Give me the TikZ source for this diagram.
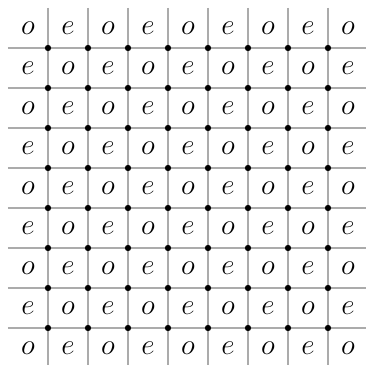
\documentclass[tikz,border=0pt]{standalone}
\usepackage{xcolor}
\usepackage{tikz}
\definecolor{gridc}{HTML}{ABABAB}
\definecolor{dotc}{HTML}{000000}

\begin{document}
\begin{tikzpicture}
  \useasboundingbox (-0.2,0.2) rectangle (8.95,-8.925);
  \fill[white] (-0.2,0.2) rectangle (8.95,-8.925);
  \foreach \i in {1,...,8} {
    \draw[gridc, line width=1.3pt] (\i,0) -- (\i,-9.2);
    \draw[gridc, line width=1.3pt] (0,-\i) -- (9.2,-\i);
  }
  \foreach \r in {0,...,8} {
    \foreach \c in {0,...,8} {
      \pgfmathtruncatemacro{\parity}{mod(\r+\c,2)}
      \ifnum\parity=0
        \node[font=\fontsize{21}{25}\selectfont] (cell\r\c) at (\c+0.5,-\r-0.5) {$o$};
      \else
        \node[font=\fontsize{21}{25}\selectfont] (cell\r\c) at (\c+0.5,-\r-0.5) {$e$};
      \fi
    }
  }
  \foreach \i in {1,...,8}
    \foreach \j in {1,...,8}
      \filldraw[dotc] (\i,-\j) circle (2pt);
\end{tikzpicture}
\end{document}
